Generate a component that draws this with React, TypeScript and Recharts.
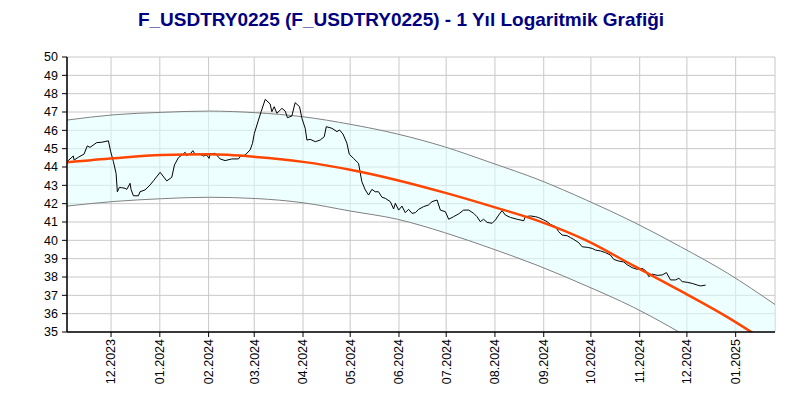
import React from "react";
import { ComposedChart, Line, Area, XAxis, YAxis, CartesianGrid } from "recharts";

// days counted from 2023-11-03
const monthTicks = [28, 59, 90, 119, 150, 180, 211, 241, 272, 303, 333, 364, 394, 425];
const monthLabels = [
  "12.2023", "01.2024", "02.2024", "03.2024", "04.2024", "05.2024", "06.2024",
  "07.2024", "08.2024", "09.2024", "10.2024", "11.2024", "12.2024", "01.2025",
];
const yTicks = [35, 36, 37, 38, 39, 40, 41, 42, 43, 44, 45, 46, 47, 48, 49, 50];

const trendDays = [0, 30, 60, 90, 120, 150, 180, 210, 240, 270, 300, 330, 360, 390, 420, 450];
const trendCenter = [44.26, 44.48, 44.65, 44.69, 44.55, 44.28, 43.85, 43.28, 42.6, 41.85, 41.05, 40.0, 38.62, 37.24, 35.8, 34.16];
const trendUpper = [46.56, 46.85, 46.98, 47.05, 46.96, 46.74, 46.33, 45.8, 45.1, 44.22, 43.3, 42.2, 41.0, 39.65, 38.2, 36.5];
const trendLower = [41.87, 42.12, 42.27, 42.35, 42.28, 42.05, 41.6, 41.15, 40.42, 39.55, 38.6, 37.52, 36.35, 34.95, 33.4, 31.8];

const priceDays = [
  0, 4, 4.5, 7.2, 10.8, 12.9, 14.6, 18.9, 22.1, 26.3, 27.8, 29.5, 31.2, 32, 33.3, 34.8, 36.9, 38, 40.1, 40.7,
  42.2, 45.4, 46.4, 49.6, 52.8, 54.9, 59.2, 63.4, 66.6, 68.3, 70.8, 73.6, 75.1, 76.1, 78.7, 80, 81.4, 84.6, 86.7, 88.8,
  90.3, 91, 94.1, 97.3, 100.5, 104.8, 109, 110, 113.2, 116.4, 117.9, 119.1, 121.7, 123.4, 126, 129.1, 130.2, 131.7, 133.4, 136.6,
  138.7, 140.1, 142.9, 145, 147.8, 149.3, 151.4, 152.5, 154.6, 157.8, 160.9, 163.5, 164.8, 168.4, 171.6, 173.2, 175.4, 177.9, 179.4, 182.1,
  185.3, 187.4, 189.6, 191.7, 193.8, 195.9, 198, 200.2, 202.3, 205.5, 207.6, 208.7, 210.8, 212.9, 215, 217.1, 219.3, 221.4, 223.5, 226.7,
  229.8, 232, 235.2, 237.3, 240.5, 242.6, 245.7, 248.9, 252.1, 255.3, 258.5, 260.6, 262.7, 264.8, 267, 270.2, 272.3, 274.4, 276.5, 278.6,
  281.8, 286.1, 290.3, 291.3, 294.5, 297.7, 299.8, 303, 305.1, 307.3, 310.4, 312.5, 314.7, 317.9, 320, 322.1, 325.3, 327.4, 330.6, 333.8,
  335.9, 339.1, 342.2, 345.4, 347.5, 350.7, 353.9, 356, 359.2, 362.4, 365.6, 367.7, 369.8, 371.9, 375.1, 378.3, 381, 383.6, 386.8, 388.9,
  391, 394.2, 397.4, 400.6, 402.7, 405.9,
];
const priceValues = [
  44.29, 44.6, 44.38, 44.53, 44.7, 45.15, 45.07, 45.33, 45.35, 45.43, 44.83, 44.29, 43.65, 42.65, 42.89, 42.87, 42.84, 42.78, 43.11, 42.78,
  42.43, 42.43, 42.65, 42.75, 43.02, 43.24, 43.71, 43.24, 43.44, 44.11, 44.51, 44.69, 44.8, 44.62, 44.75, 44.89, 44.69, 44.69, 44.6, 44.65,
  44.47, 44.71, 44.75, 44.44, 44.35, 44.44, 44.44, 44.56, 44.65, 44.93, 45.29, 45.84, 46.56, 47.02, 47.69, 47.44, 47.02, 47.29, 46.93, 47.2,
  47.05, 46.69, 46.78, 47.51, 47.29, 46.66, 46.11, 45.47, 45.51, 45.38, 45.47, 45.65, 46.2, 46.11, 45.93, 46.02, 45.8, 45.3, 44.7, 44.47,
  44.2, 43.2, 42.75, 42.47, 42.78, 42.65, 42.65, 42.35, 42.29, 42.11, 41.71, 42.02, 41.65, 41.87, 41.51, 41.69, 41.47, 41.51, 41.69, 41.84,
  41.93, 42.11, 42.2, 41.65, 41.56, 41.15, 41.29, 41.44, 41.65, 41.65, 41.47, 41.29, 41.02, 41.15, 40.98, 40.93, 41.11, 41.38, 41.62, 41.38,
  41.25, 41.15, 41.07, 41.29, 41.33, 41.29, 41.24, 41.11, 41.02, 40.87, 40.75, 40.47, 40.29, 40.25, 40.15, 40.05, 39.87, 39.65, 39.62, 39.56,
  39.47, 39.42, 39.33, 39.2, 38.96, 38.87, 38.82, 38.67, 38.51, 38.42, 38.47, 38.35, 38.02, 38.16, 38.09, 38.11, 38.24, 37.84, 37.84, 37.93,
  37.75, 37.71, 37.65, 37.56, 37.51, 37.56,
];

const trendData = trendDays.map((d, i) => ({
  day: d,
  center: trendCenter[i],
  upper: trendUpper[i],
  lower: trendLower[i],
  band: [trendLower[i], trendUpper[i]],
}));
const priceData = priceDays.map((d, i) => ({ day: d, price: priceValues[i] }));

const FONT = '"Liberation Sans", Arial, sans-serif';

function MonthTick(props: any) {
  const { x, payload } = props;
  const idx = monthTicks.indexOf(payload.value);
  return (
    <g transform={`translate(${x},339)`}>
      <text
        transform="rotate(-90)"
        textAnchor="end"
        dy="0.35em"
        fontSize={12.5}
        fontFamily='"Liberation Sans Narrow", "Liberation Sans", Arial, sans-serif'
        fill="#000"
      >
        {idx >= 0 ? monthLabels[idx] : ""}
      </text>
    </g>
  );
}

export default function App() {
  return (
    <div style={{ position: "absolute", left: 0, top: 0, width: 800, height: 400, background: "#fff", fontFamily: FONT }}>
      <div
        style={{
          position: "absolute",
          left: 0,
          top: 9,
          width: 802,
          textAlign: "center",
          fontSize: 19,
          fontWeight: "bold",
          color: "#000080",
          fontFamily: FONT,
          lineHeight: "22px",
        }}
      >
        F_USDTRY0225 (F_USDTRY0225) - 1 Yıl Logaritmik Grafiği
      </div>
      <ComposedChart width={800} height={400} margin={{ top: 57, right: 25, bottom: 0, left: 0 }}>
        <CartesianGrid stroke="#c8c8c8" strokeWidth={1} />
        <XAxis
          dataKey="day"
          type="number"
          domain={[0, 450]}
          ticks={monthTicks}
          height={68}
          allowDataOverflow
          tick={<MonthTick />}
          tickSize={5}
          axisLine={{ stroke: "#000", strokeWidth: 1.5 }}
          tickLine={{ stroke: "#000" }}
        />
        <YAxis
          type="number"
          domain={[35, 50]}
          ticks={yTicks}
          width={67}
          allowDataOverflow
          interval={0}
          tickSize={5}
          tickMargin={4}
          tick={{ fontSize: 12.5, fill: "#000", fontFamily: FONT }}
          axisLine={{ stroke: "#000", strokeWidth: 1.5 }}
          tickLine={{ stroke: "#000" }}
        />
        <Area
          data={trendData}
          dataKey="band"
          type="monotone"
          stroke="none"
          fill="#e0ffff"
          fillOpacity={0.55}
          isAnimationActive={false}
        />
        <Line data={trendData} dataKey="upper" type="monotone" stroke="#808080" strokeWidth={1} dot={false} isAnimationActive={false} />
        <Line data={trendData} dataKey="lower" type="monotone" stroke="#808080" strokeWidth={1} dot={false} isAnimationActive={false} />
        <Line data={priceData} dataKey="price" type="linear" stroke="#000" strokeWidth={1} dot={false} isAnimationActive={false} />
        <Line data={trendData} dataKey="center" type="monotone" stroke="#ff4500" strokeWidth={2.5} dot={false} isAnimationActive={false} />
      </ComposedChart>
    </div>
  );
}
